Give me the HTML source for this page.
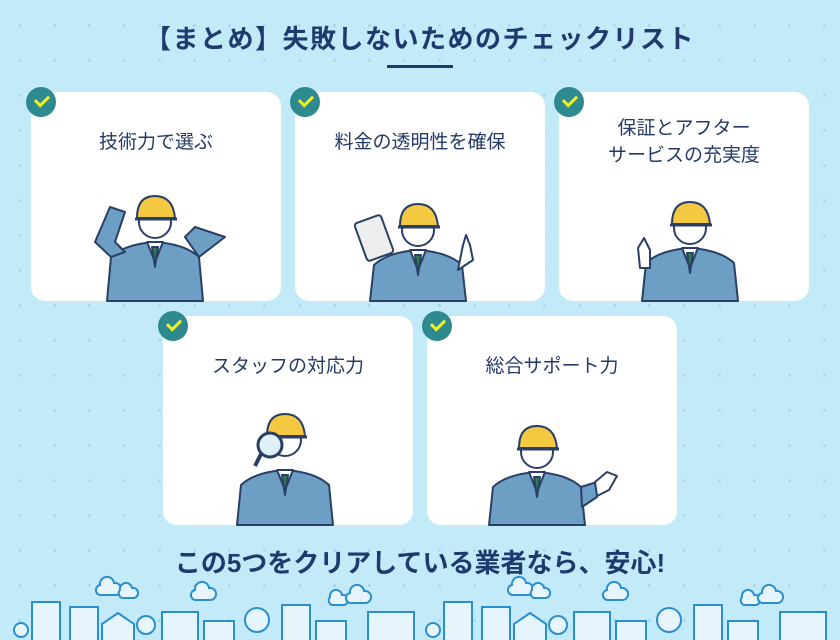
<!DOCTYPE html>
<html><head><meta charset="utf-8"><style>
body{margin:0;width:840px;height:640px;overflow:hidden;background:#c3eaf8;font-family:"Liberation Sans","Noto Sans CJK JP",sans-serif;position:relative;
background-image:radial-gradient(circle,#a9d7ee 1.4px,transparent 1.6px);background-size:35px 35px;background-position:2px 8px}
.t{position:absolute;left:0;width:840px;text-align:center;color:#1e3a6e;font-weight:bold}
.card{position:absolute;width:250px;height:209px;background:#fff;border-radius:14px}
.card .lb{position:absolute;top:37px;left:0;width:100%;text-align:center;font-size:19px;color:#243a66;line-height:27px}
.chk{position:absolute;width:30px;height:30px;border-radius:50%;background:#2f8a8f}
.chk:after{content:"";position:absolute;left:9px;top:8px;width:11px;height:6px;border-left:3px solid #f4f020;border-bottom:3px solid #f4f020;transform:rotate(-45deg)}
svg{position:absolute;left:0;top:0}
</style></head><body>
<div class="t" style="top:19px;font-size:26px;letter-spacing:1.5px">【まとめ】失敗しないためのチェックリスト</div>
<div style="position:absolute;left:387px;top:65px;width:66px;height:3px;background:#1e3a6e"></div>

<div class="card" style="left:31px;top:92px"><div class="lb">技術力で選ぶ</div></div>
<div class="card" style="left:295px;top:92px"><div class="lb">料金の透明性を確保</div></div>
<div class="card" style="left:559px;top:92px"><div class="lb" style="top:23px">保証とアフター<br>サービスの充実度</div></div>
<div class="card" style="left:163px;top:316px"><div class="lb">スタッフの対応力</div></div>
<div class="card" style="left:427px;top:316px"><div class="lb">総合サポート力</div></div>
<div class="chk" style="left:26px;top:87px"></div>
<div class="chk" style="left:290px;top:87px"></div>
<div class="chk" style="left:554px;top:87px"></div>
<div class="chk" style="left:158px;top:311px"></div>
<div class="chk" style="left:422px;top:311px"></div>

<svg width="840" height="640" viewBox="0 0 840 640">
<g stroke="#2a3f66" stroke-width="2" stroke-linejoin="round">
<g transform="translate(155,222)"><path d="M-48 79 L-44 35 Q-30 22 0 20 Q30 22 44 35 L48 79Z" fill="#6d9ec4"/><path d="M-44 35 L-60 20 L-45 -15 L-30 -10 L-40 20 L-30 30Z" fill="#6d9ec4"/><path d="M44 35 L70 15 L40 5 L30 15Z" fill="#6d9ec4"/><path d="M-8 20 L0 40 L8 20Z" fill="#fff"/><path d="M-3 25 L0 45 L3 25Z" fill="#2f7d4a"/><circle r="16" fill="#fff"/><path d="M-18 -4 Q-18 -26 0 -26 Q18 -26 20 -4Z" fill="#f5c842"/><path d="M-20 -3 L22 -3" stroke-width="3"/></g>
<g transform="translate(418,230)"><path d="M-48 71 L-44 35 Q-30 22 0 20 Q30 22 44 35 L48 71Z" fill="#6d9ec4"/><path d="M-8 20 L0 40 L8 20Z" fill="#fff"/><path d="M-3 25 L0 45 L3 25Z" fill="#2f7d4a"/><circle r="16" fill="#fff"/><path d="M-18 -4 Q-18 -26 0 -26 Q18 -26 20 -4Z" fill="#f5c842"/><path d="M-20 -3 L22 -3" stroke-width="3"/><rect x="-58" y="-12" width="28" height="40" rx="3" fill="#eee" transform="rotate(-20 -44 8)"/><path d="M40 40 L45 15 L48 5 L52 15 L55 30Z" fill="#fff"/></g>
<g transform="translate(690,228)"><path d="M-48 73 L-44 35 Q-30 22 0 20 Q30 22 44 35 L48 73Z" fill="#6d9ec4"/><path d="M-8 20 L0 40 L8 20Z" fill="#fff"/><path d="M-3 25 L0 45 L3 25Z" fill="#2f7d4a"/><circle r="16" fill="#fff"/><path d="M-18 -4 Q-18 -26 0 -26 Q18 -26 20 -4Z" fill="#f5c842"/><path d="M-20 -3 L22 -3" stroke-width="3"/><path d="M-50 40 L-52 20 L-46 10 L-40 22 L-40 40Z" fill="#fff"/></g>
<g transform="translate(285,440)"><path d="M-48 85 L-44 45 Q-30 32 0 30 Q30 32 44 45 L48 85Z" fill="#6d9ec4"/><path d="M-8 30 L0 50 L8 30Z" fill="#fff"/><path d="M-3 35 L0 55 L3 35Z" fill="#2f7d4a"/><circle r="16" fill="#fff"/><path d="M-18 -4 Q-18 -26 0 -26 Q18 -26 20 -4Z" fill="#f5c842"/><path d="M-20 -3 L22 -3" stroke-width="3"/><circle cx="-15" cy="5" r="12" fill="#dff1f8" stroke-width="3"/><path d="M-24 14 L-30 26" stroke-width="4"/></g>
<g transform="translate(537,452)"><path d="M-48 73 L-44 35 Q-30 22 0 20 Q30 22 44 35 L48 73Z" fill="#6d9ec4"/><path d="M44 35 L60 30 L60 45 L45 55Z" fill="#6d9ec4"/><path d="M58 30 L70 20 L80 24 L72 38 L60 44Z" fill="#fff"/><path d="M-8 20 L0 40 L8 20Z" fill="#fff"/><path d="M-3 25 L0 45 L3 25Z" fill="#2f7d4a"/><circle r="16" fill="#fff"/><path d="M-18 -4 Q-18 -26 0 -26 Q18 -26 20 -4Z" fill="#f5c842"/><path d="M-20 -3 L22 -3" stroke-width="3"/></g>
</g>
<g stroke="#2a8fd0" stroke-width="2" fill="#e6f5fc">
<g id="c">
<rect x="32" y="602" width="28" height="40"/><rect x="70" y="607" width="28" height="35"/><path d="M102 642 V624 L118 613 L134 624 V642Z"/><circle cx="146" cy="625" r="9"/><rect x="162" y="612" width="36" height="30"/><rect x="204" y="621" width="30" height="21"/><circle cx="257" cy="620" r="12"/><rect x="282" y="605" width="28" height="37"/><rect x="316" y="621" width="30" height="21"/><rect x="368" y="612" width="46" height="30"/><circle cx="21" cy="630" r="7"/>
<path d="M100 585 a7 7 0 0 1 14 -2 a6 6 0 0 1 2 12 h-14 a5 5 0 0 1 -2 -10z"/><path d="M120 590 a6 6 0 0 1 12 -2 a5 5 0 0 1 2 10 h-12 a5 5 0 0 1 -2 -8z"/><path d="M195 590 a7 7 0 0 1 14 -2 a6 6 0 0 1 2 12 h-14 a5 5 0 0 1 -2 -10z"/><path d="M330 597 a6 6 0 0 1 12 -2 a5 5 0 0 1 2 10 h-12 a5 5 0 0 1 -2 -8z"/><path d="M350 593 a7 7 0 0 1 14 -2 a6 6 0 0 1 2 12 h-14 a5 5 0 0 1 -2 -10z"/>
</g>
<use href="#c" x="412"/>
</g>
</svg>
<div class="t" style="top:543px;font-size:26px">この5つをクリアしている業者なら、安心!</div>
</body></html>
